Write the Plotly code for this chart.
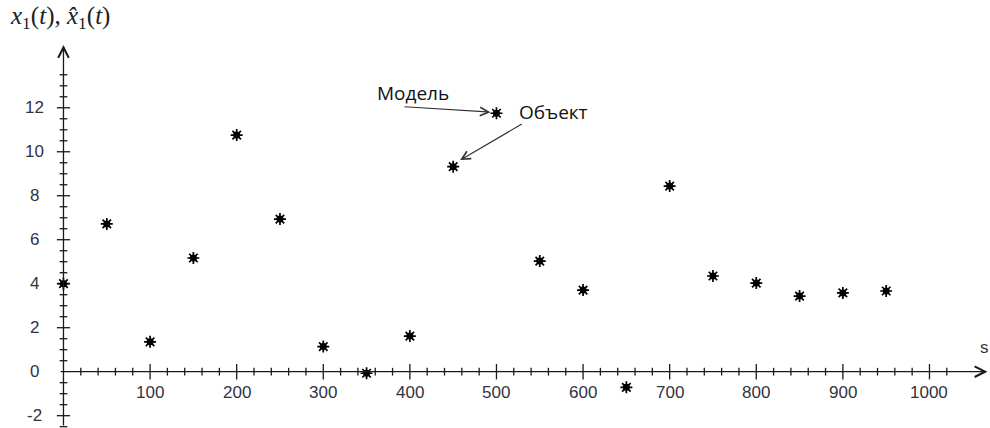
import plotly.graph_objects as go

# Sampled signal values x1(t) at step s
s_vals = [0, 50, 100, 150, 200, 250, 300, 350, 400, 450, 500,
          550, 600, 650, 700, 750, 800, 850, 900, 950]
x_vals = [4.0, 6.72, 1.36, 5.17, 10.76, 6.94, 1.14, -0.07, 1.62, 9.32, 11.75,
          5.03, 3.71, -0.71, 8.44, 4.35, 4.03, 3.44, 3.58, 3.67]

x_major = list(range(100, 1001, 100))
x_minor = [v for v in range(20, 1021, 20) if v % 100 != 0]
y_major = [-2, 2, 4, 6, 8, 10, 12]
y_minor = [v / 2 for v in range(-5, 29) if v % 4 != 0]
y_labels = [-2, 0, 2, 4, 6, 8, 10, 12]

W, H = 990, 428
X_RANGE = [-73.3, 1069.9]
Y_RANGE = [-2.56, 16.9]
px_x = W / (X_RANGE[1] - X_RANGE[0])
px_y = H / (Y_RANGE[1] - Y_RANGE[0])

AX = "#1a1a1a"
LBL = "#33333f"
TICK_FONT = dict(family="Liberation Sans, Arial, sans-serif", size=17, color=LBL)


def tick_marker(symbol, size):
    return dict(symbol=symbol, size=size, color=AX, line=dict(width=1.3, color=AX))


fig = go.Figure()

# tick marks crossing the axes
fig.add_trace(go.Scatter(x=x_major, y=[0] * len(x_major), mode="markers",
                         marker=tick_marker("line-ns-open", 11), hoverinfo="skip"))
fig.add_trace(go.Scatter(x=x_minor, y=[0] * len(x_minor), mode="markers",
                         marker=tick_marker("line-ns-open", 5.5), hoverinfo="skip"))
fig.add_trace(go.Scatter(x=[0] * len(y_major), y=y_major, mode="markers",
                         marker=tick_marker("line-ew-open", 9.5), hoverinfo="skip"))
fig.add_trace(go.Scatter(x=[0] * len(y_minor), y=y_minor, mode="markers",
                         marker=tick_marker("line-ew-open", 5.5), hoverinfo="skip"))

# data points: filled core with asterisk spokes
fig.add_trace(go.Scatter(x=s_vals, y=x_vals, mode="markers",
                         marker=dict(symbol="asterisk-open", size=10, color="black",
                                     line=dict(width=1.7, color="black"))))
fig.add_trace(go.Scatter(x=s_vals, y=x_vals, mode="markers",
                         marker=dict(symbol="circle", size=7, color="black", line=dict(width=0))))

ann = []
# axes drawn as open-headed arrows
x_tip = X_RANGE[1] - 2.5 / px_x
y_tip = Y_RANGE[1] - 45 / px_y
ann.append(dict(x=x_tip, y=0, ax=-5, ay=0, xref="x", yref="y", axref="x", ayref="y",
                text="", showarrow=True, arrowhead=5, arrowsize=1.6, arrowwidth=1.3, arrowcolor=AX))
ann.append(dict(x=0, y=y_tip, ax=0, ay=Y_RANGE[0] + 1 / px_y, xref="x", yref="y", axref="x", ayref="y",
                text="", showarrow=True, arrowhead=5, arrowsize=1.6, arrowwidth=1.3, arrowcolor=AX))

for v in x_major:
    ann.append(dict(x=v, y=0, xref="x", yref="y", text=str(v), showarrow=False,
                    yshift=-21, xanchor="center", yanchor="middle", font=TICK_FONT))
for v in y_labels:
    ann.append(dict(x=0, y=v, xref="x", yref="y", text=str(v), showarrow=False,
                    xshift=-28.5, xanchor="center", yanchor="middle", font=TICK_FONT))

ann.append(dict(x=x_tip, y=0, xref="x", yref="y", text="s", showarrow=False,
                xshift=-3, yshift=24, xanchor="center", yanchor="middle", font=TICK_FONT))

# axis title
ann.append(dict(x=0.008, y=1.0, xref="paper", yref="paper", xanchor="left", yanchor="top",
                text="<i>x</i><sub>1</sub>(<i>t</i>), <i>x\u0302</i><sub>1</sub>(<i>t</i>)",
                showarrow=False, font=dict(family="Liberation Serif, serif", size=25, color="#222")))

# labels pointing at the model and object samples
NOTE_FONT = dict(family="Open Sans, sans-serif", size=19, color="#111")
ann.append(dict(x=s_vals[10] - 7, y=x_vals[10] + 0.05, ax=392, ay=12.05, xref="x", yref="y",
                axref="x", ayref="y", text="", showarrow=True, arrowhead=5, arrowsize=1.4,
                arrowwidth=1.2, arrowcolor="#333"))
ann.append(dict(x=360, y=12.65, xref="x", yref="y", text="Модель", showarrow=False,
                xanchor="left", yanchor="middle", font=NOTE_FONT))
ann.append(dict(x=s_vals[9] + 8, y=x_vals[9] + 0.3, ax=531, ay=11.3, xref="x", yref="y",
                axref="x", ayref="y", text="", showarrow=True, arrowhead=5, arrowsize=1.4,
                arrowwidth=1.2, arrowcolor="#333"))
ann.append(dict(x=524, y=11.8, xref="x", yref="y", text="Объект", showarrow=False,
                xanchor="left", yanchor="middle", font=NOTE_FONT))

fig.update_layout(
    width=W, height=H, margin=dict(l=0, r=0, t=0, b=0),
    paper_bgcolor="white", plot_bgcolor="white", showlegend=False,
    xaxis=dict(range=X_RANGE, visible=False, fixedrange=True),
    yaxis=dict(range=Y_RANGE, visible=False, fixedrange=True),
    annotations=ann,
)

fig.write_html("out.html")
